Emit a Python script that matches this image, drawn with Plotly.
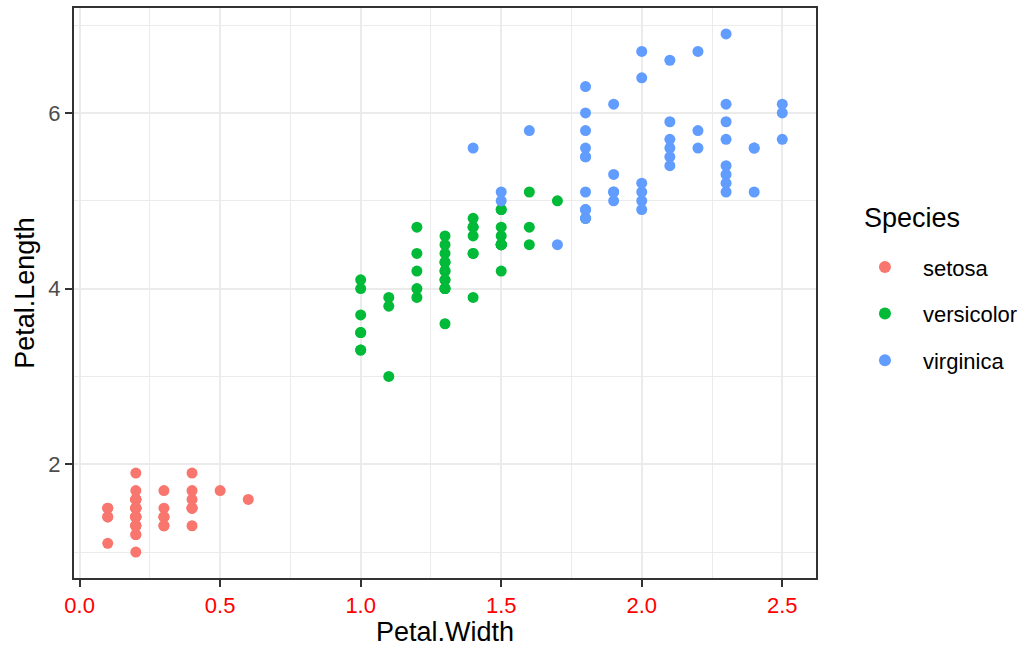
import plotly.graph_objects as go

# Petal measurements per species
setosa_width = [0.2, 0.2, 0.2, 0.2, 0.2, 0.4, 0.3, 0.2, 0.2, 0.1,
                0.2, 0.2, 0.1, 0.1, 0.2, 0.4, 0.4, 0.3, 0.3, 0.3,
                0.2, 0.4, 0.2, 0.5, 0.2, 0.2, 0.4, 0.2, 0.2, 0.2,
                0.2, 0.4, 0.1, 0.2, 0.2, 0.2, 0.2, 0.1, 0.2, 0.2,
                0.3, 0.3, 0.2, 0.6, 0.4, 0.3, 0.2, 0.2, 0.2, 0.2]
setosa_length = [1.4, 1.4, 1.3, 1.5, 1.4, 1.7, 1.4, 1.5, 1.4, 1.5,
                 1.5, 1.6, 1.4, 1.1, 1.2, 1.5, 1.3, 1.4, 1.7, 1.5,
                 1.7, 1.5, 1.0, 1.7, 1.9, 1.6, 1.6, 1.5, 1.4, 1.6,
                 1.6, 1.5, 1.5, 1.4, 1.5, 1.2, 1.3, 1.4, 1.3, 1.5,
                 1.3, 1.3, 1.3, 1.6, 1.9, 1.4, 1.6, 1.4, 1.5, 1.4]

versicolor_width = [1.4, 1.5, 1.5, 1.3, 1.5, 1.3, 1.6, 1.0, 1.3, 1.4,
                    1.0, 1.5, 1.0, 1.4, 1.3, 1.4, 1.5, 1.0, 1.5, 1.1,
                    1.8, 1.3, 1.5, 1.2, 1.3, 1.4, 1.4, 1.7, 1.5, 1.0,
                    1.1, 1.0, 1.2, 1.6, 1.5, 1.6, 1.5, 1.3, 1.3, 1.3,
                    1.2, 1.4, 1.2, 1.0, 1.3, 1.2, 1.3, 1.3, 1.1, 1.3]
versicolor_length = [4.7, 4.5, 4.9, 4.0, 4.6, 4.5, 4.7, 3.3, 4.6, 3.9,
                     3.5, 4.2, 4.0, 4.7, 3.6, 4.4, 4.5, 4.1, 4.5, 3.9,
                     4.8, 4.0, 4.9, 4.7, 4.3, 4.4, 4.8, 5.0, 4.5, 3.5,
                     3.8, 3.7, 3.9, 5.1, 4.5, 4.5, 4.7, 4.4, 4.1, 4.0,
                     4.4, 4.6, 4.0, 3.3, 4.2, 4.2, 4.2, 4.3, 3.0, 4.1]

virginica_width = [2.5, 1.9, 2.1, 1.8, 2.2, 2.1, 1.7, 1.8, 1.8, 2.5,
                   2.0, 1.9, 2.1, 2.0, 2.4, 2.3, 1.8, 2.2, 2.3, 1.5,
                   2.3, 2.0, 2.0, 1.8, 2.1, 1.8, 1.8, 1.8, 2.1, 1.6,
                   1.9, 2.0, 2.2, 1.5, 1.4, 2.3, 2.4, 1.8, 1.8, 2.1,
                   2.4, 2.3, 1.9, 2.3, 2.5, 2.3, 1.9, 2.0, 2.3, 1.8]
virginica_length = [6.0, 5.1, 5.9, 5.6, 5.8, 6.6, 4.5, 6.3, 5.8, 6.1,
                    5.1, 5.3, 5.5, 5.0, 5.1, 5.3, 5.5, 6.7, 6.9, 5.0,
                    5.7, 4.9, 6.7, 4.9, 5.7, 6.0, 4.8, 4.9, 5.6, 5.8,
                    6.1, 6.4, 5.6, 5.1, 5.6, 6.1, 5.6, 5.5, 4.8, 5.4,
                    5.6, 5.1, 5.1, 5.9, 5.7, 5.2, 5.0, 5.2, 5.4, 5.1]

species = ["setosa", "versicolor", "virginica"]
colors = ["#F8766D", "#00BA38", "#619CFF"]
widths = [setosa_width, versicolor_width, virginica_width]
lengths = [setosa_length, versicolor_length, virginica_length]

x_ticks = [0.0, 0.5, 1.0, 1.5, 2.0, 2.5]
x_tick_labels = ["0.0", "0.5", "1.0", "1.5", "2.0", "2.5"]
y_ticks = [2, 4, 6]
y_tick_labels = ["2", "4", "6"]

FONT = "Liberation Sans, Arial, sans-serif"
TICK_SIZE = 22
TITLE_SIZE = 27

fig = go.Figure()
for name, col, xs, ys in zip(species, colors, widths, lengths):
    fig.add_trace(go.Scatter(
        x=xs, y=ys, mode="markers", name=name, legendgroup=name,
        marker=dict(color=col, size=11, line=dict(width=0)),
    ))

axis_common = dict(
    showline=True, mirror=True, linecolor="#333333", linewidth=2,
    ticks="outside", ticklen=7, tickwidth=2, tickcolor="#333333",
    gridcolor="#EBEBEB", gridwidth=2, zeroline=False,
)

fig.update_xaxes(
    range=[-0.02, 2.62], tickvals=x_ticks, ticktext=x_tick_labels,
    tickfont=dict(family=FONT, size=TICK_SIZE, color="red"),
    title=dict(text="Petal.Width", font=dict(family=FONT, size=TITLE_SIZE, color="black"), standoff=4),
    minor=dict(showgrid=True, dtick=0.25, tick0=0.25, gridcolor="#EBEBEB", gridwidth=1, ticks=""),
    **axis_common,
)
fig.update_yaxes(
    range=[0.705, 7.195], tickvals=y_ticks, ticktext=y_tick_labels,
    tickfont=dict(family=FONT, size=TICK_SIZE, color="#4D4D4D"),
    title=dict(text="Petal.Length", font=dict(family=FONT, size=TITLE_SIZE, color="black"), standoff=6),
    minor=dict(showgrid=True, dtick=1, tick0=1, gridcolor="#EBEBEB", gridwidth=1, ticks=""),
    **axis_common,
)

# Legend title placed as its own text so it can sit left of the keys
fig.add_annotation(
    text="Species", xref="paper", yref="paper",
    x=(863 - 74) / 743, y=(578 - 217) / 572, xanchor="left", yanchor="middle",
    showarrow=False, font=dict(family=FONT, size=TITLE_SIZE, color="black"),
)

fig.update_layout(
    width=1029, height=647,
    margin=dict(l=74, r=212, t=6, b=69),
    plot_bgcolor="white", paper_bgcolor="white",
    font=dict(family=FONT),
    legend=dict(
        font=dict(family=FONT, size=TICK_SIZE, color="black"),
        x=(848 - 74) / 743, xanchor="left", y=(578 - 245) / 572, yanchor="top",
        tracegroupgap=15, itemsizing="constant", itemwidth=66,
        bgcolor="rgba(0,0,0,0)",
    ),
)

fig.write_html("out.html")
